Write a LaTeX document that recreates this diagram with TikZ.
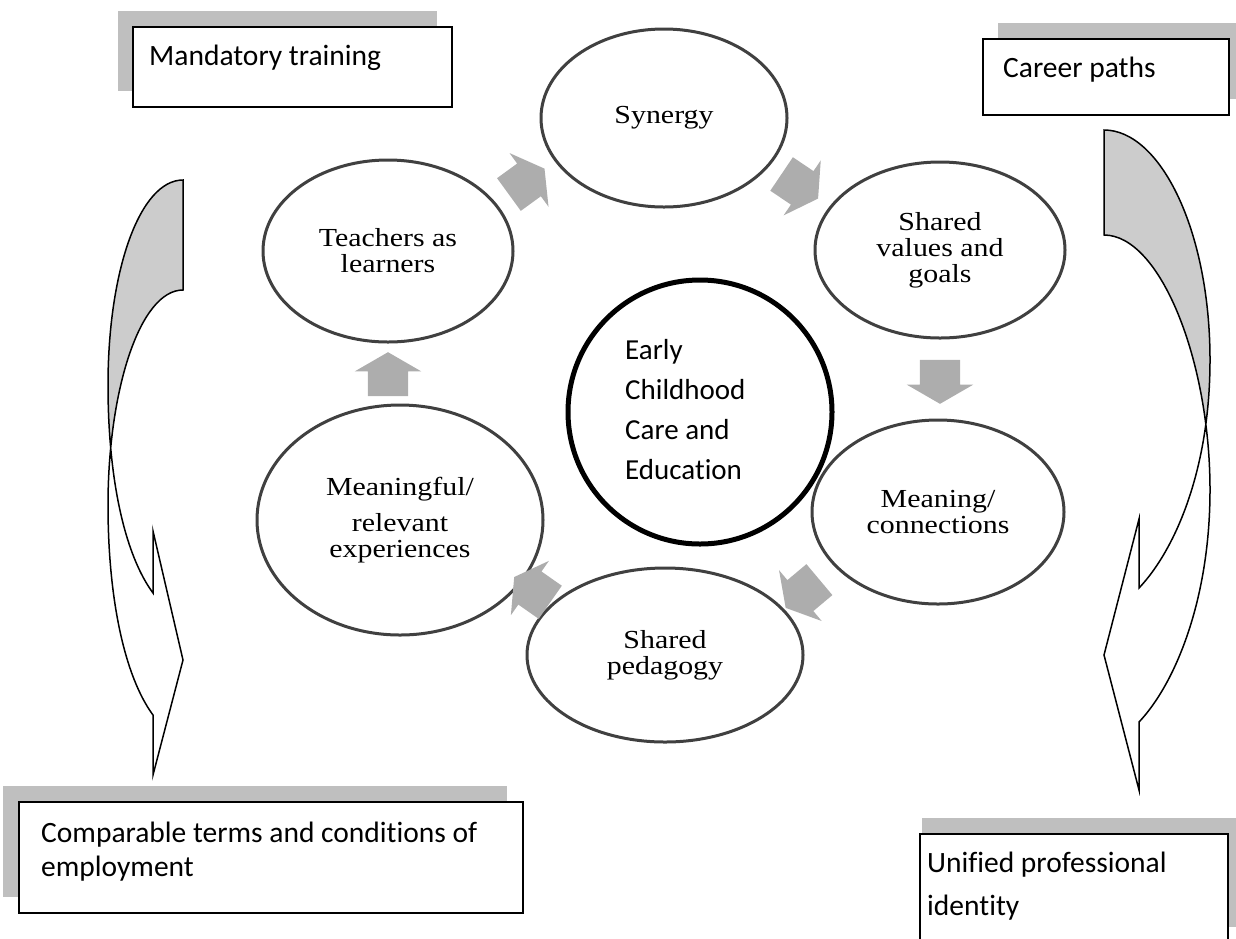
\documentclass[tikz,border=0pt]{standalone}
\usepackage{fontspec}
\setmainfont{Carlito}[Ligatures=NoCommon]
\newfontfamily\cyclefont[FakeStretch=1.15]{Liberation Serif}
\usepackage{tikz}
\usetikzlibrary{shapes.geometric,shapes.arrows,intersections}
\definecolor{ring}{HTML}{404040}
\definecolor{flow}{HTML}{ADADAD}
\definecolor{back}{HTML}{CCCCCC}
\definecolor{shade}{HTML}{BFBFBF}
\tikzset{
  stage/.style={ellipse,draw=ring,line width=3pt,fill=white,inner sep=0pt,align=center,font=\cyclefont\fontsize{26}{26}\selectfont},
  hub/.style={circle,draw=black,line width=5pt,minimum size=264pt,inner sep=0pt},
  hubtext/.style={align=left,inner sep=0pt,anchor=west,font=\fontsize{29}{40}\selectfont},
  flowarr/.style={single arrow,fill=flow,draw=none,minimum height=44pt,inner xsep=0pt,inner ysep=20pt,single arrow head extend=13pt,single arrow tip angle=120},
  tagbox/.style={rectangle,draw=black,line width=1.5pt,fill=white,inner sep=0pt},
  tagshade/.style={fill=shade},
  tagtext/.style={align=left,inner sep=0pt,anchor=base west,font=\fontsize{29.5}{34}\selectfont},
  bendarr/.style={draw=black,line width=1.5pt,line join=miter},
}

\begin{document}
\begin{tikzpicture}[x=1pt,y=-1pt]
  \useasboundingbox (0,0) rectangle (1236,938);

  % corner boxes with their shadows
  \fill[tagshade] (118,11) rectangle (437,91);
  \node[tagbox,minimum width=319pt,minimum height=80pt] (mand) at (292.5,67) {};
  \node[tagtext] (mandtxt) at (149,65) {Mandatory training};

  \fill[tagshade] (998,23) rectangle (1244,99);
  \node[tagbox,minimum width=246pt,minimum height=76pt] (career) at (1106,77) {};
  \node[tagtext] (careertxt) at (1003,77) {Career paths};

  \fill[tagshade] (3,786) rectangle (507,897);
  \node[tagbox,minimum width=504pt,minimum height=111pt] (terms) at (271,857.5) {};
  \node[tagtext] (termstxt) at (41,876) {Comparable terms and conditions of\\employment};

  \fill[tagshade] (922,818) rectangle (1244,927);
  \node[tagbox,minimum width=308pt,minimum height=126pt] (ident) at (1074,897) {};
  \node[tagtext] (identtxt) at (927,915) {Unified professional\\[9pt]identity};

  % left curved arrow
  \path[name path=lp] (183,180) .. controls (140,180) and (108,270) .. (108,385) .. controls (108,480) and (125,555) .. (153,593);
  \path[name path=lq] (183,290) .. controls (140,290) and (108,390) .. (108,505) .. controls (108,600) and (125,677) .. (153,715);
  \path[name intersections={of=lp and lq,by=lx}];
  \begin{scope}
    \clip (0,0) rectangle ([xshift=150pt]lx);
    \fill[back] (183,180) .. controls (140,180) and (108,270) .. (108,385) .. controls (108,480) and (125,555) .. (153,593)
      -- (153,715) .. controls (125,677) and (108,600) .. (108,505) .. controls (108,390) and (140,290) .. (183,290) -- cycle;
  \end{scope}
  \draw[bendarr] (183,180) .. controls (140,180) and (108,270) .. (108,385) .. controls (108,480) and (125,555) .. (153,593)
    -- (153,531) -- (183,660) -- (153,775) -- (153,715)
    .. controls (125,677) and (108,600) .. (108,505) .. controls (108,390) and (140,290) .. (183,290) -- cycle;

  % right curved arrow
  \path[name path=rp] (1104,130) .. controls (1160,130) and (1210,230) .. (1210,360) .. controls (1210,470) and (1175,550) .. (1139,588);
  \path[name path=rq] (1104,235) .. controls (1160,235) and (1210,360) .. (1210,490) .. controls (1210,600) and (1175,684) .. (1139,722);
  \path[name intersections={of=rp and rq,by=rx}];
  \begin{scope}
    \clip (1236,0) rectangle ([xshift=-150pt]rx);
    \fill[back] (1104,130) .. controls (1160,130) and (1210,230) .. (1210,360) .. controls (1210,470) and (1175,550) .. (1139,588)
      -- (1139,722) .. controls (1175,684) and (1210,600) .. (1210,490) .. controls (1210,360) and (1160,235) .. (1104,235) -- cycle;
  \end{scope}
  \draw[bendarr] (1104,130) .. controls (1160,130) and (1210,230) .. (1210,360) .. controls (1210,470) and (1175,550) .. (1139,588)
    -- (1139,519) -- (1104,655) -- (1139,790) -- (1139,722)
    .. controls (1175,684) and (1210,600) .. (1210,490) .. controls (1210,360) and (1160,235) .. (1104,235) -- cycle;

  % cycle of stages
  \node[stage,minimum width=246pt,minimum height=178pt] (syn) at (664,118) {Synergy};
  \node[stage,minimum width=250pt,minimum height=176pt] (vals) at (940,250) {Shared\\values and\\goals};
  \node[stage,minimum width=252pt,minimum height=184pt] (conn) at (938,512) {Meaning/\\connections};
  \node[stage,minimum width=276pt,minimum height=174pt] (ped) at (665,655) {Shared\\pedagogy};
  \node[stage,minimum width=286pt,minimum height=230pt] (exp) at (400,520) {Meaningful/\\[10pt]relevant\\experiences};
  \node[stage,minimum width=250pt,minimum height=182pt] (learn) at (388,251) {Teachers as\\learners};

  \node[flowarr,rotate=36] (f1) at (522,185) {};
  \node[flowarr,rotate=-34] (f2) at (795,183) {};
  \node[flowarr,rotate=-90] (f3) at (940,376) {};
  \node[flowarr,rotate=-140] (f4) at (807,590) {};
  \node[flowarr,rotate=145] (f5) at (537,593) {};
  \node[flowarr,rotate=90] (f6) at (388,380) {};

  % centre
  \node[hub] (ecce) at (700,412) {};
  \node[hubtext] (eccetxt) at (625,410) {Early\\Childhood\\Care and\\Education};
\end{tikzpicture}
\end{document}
